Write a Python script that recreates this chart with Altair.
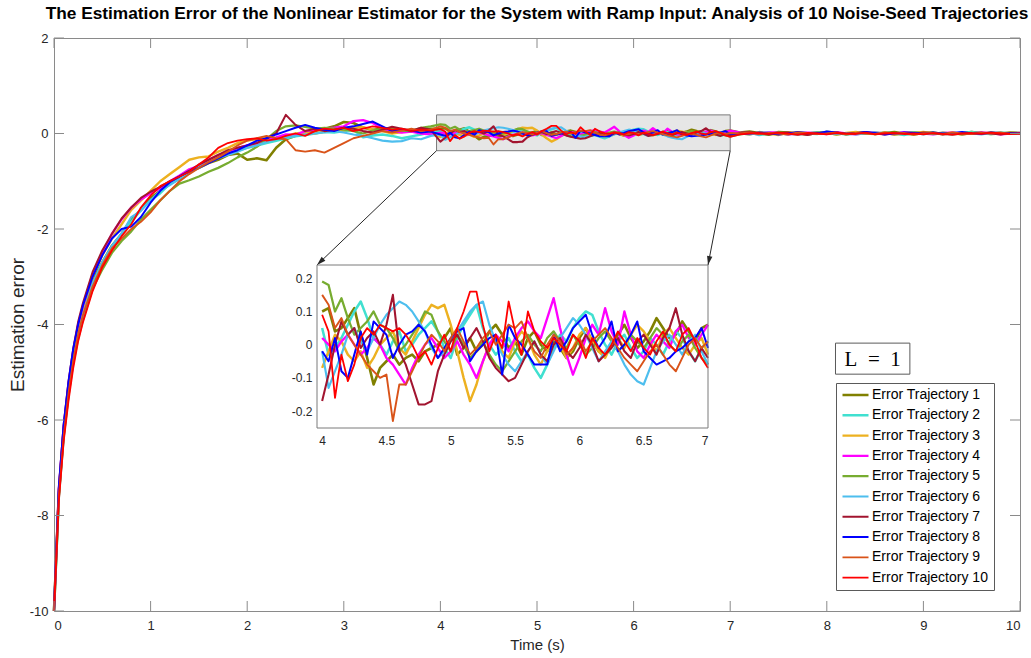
import math
import numpy as np
import pandas as pd
import altair as alt

TITLE = ("The Estimation Error of the Nonlinear Estimator for the System with Ramp Input: "
         "Analysis of 10 Noise-Seed Trajectories")
NAMES = ["Error Trajectory %d" % k for k in range(1, 11)]
COLORS = ["#808000", "#40e0d0", "#edb120", "#ff00ff", "#77ac30",
          "#4dbeee", "#a2142f", "#0000ff", "#d95319", "#ff0000"]
LINE_WIDTHS = [2.6, 1.8, 1.8, 1.8, 1.8, 1.8, 1.8, 1.8, 1.8, 1.8]

# time grids
T_EARLY = [0, 0.05, 0.1, 0.15, 0.2, 0.25, 0.3, 0.4, 0.5, 0.6, 0.7, 0.8, 0.9, 1.0,
           1.1, 1.2, 1.3, 1.4, 1.5, 1.6, 1.7, 1.8, 1.9, 2.0, 2.1, 2.2, 2.3, 2.4,
           2.5, 2.6, 2.7, 2.8, 2.9, 3.0, 3.1, 3.2, 3.3, 3.4, 3.5, 3.6, 3.7, 3.8, 3.9]
T_ZOOM = [round(v / 100, 2) for v in range(400, 701, 5)]      # 4.00 .. 7.00
T_LATE = [round(v / 10, 1) for v in range(71, 101)]            # 7.1 .. 10.0

# estimation error, 0 .. 3.9 s
ERR_EARLY = [
    [-10, -7.55, -6.25, -5.35, -4.65, -4.1, -3.7, -3.05, -2.7, -2.35, -2.1, -1.8, -1.6, -1.35, -1.2, -1.05, -0.95,
     -0.8, -0.72, -0.62, -0.55, -0.45, -0.42, -0.55, -0.52, -0.56, -0.3, -0.12, -0.05, 0.02, 0.05, 0.1, 0.15, 0.24,
     0.22, 0.12, 0.08, 0.1, 0.06, 0.04, 0.08, 0.05, 0.1],
    [-10, -7.6, -6.35, -5.45, -4.75, -4.2, -3.8, -3.15, -2.7, -2.4, -2.1, -1.85, -1.6, -1.4, -1.25, -1.05, -0.92,
     -0.8, -0.72, -0.6, -0.5, -0.42, -0.36, -0.3, -0.25, -0.2, -0.15, -0.1, -0.06, -0.03, 0.0, 0.03, 0.02, 0.05,
     0.08, -0.08, -0.04, -0.02, -0.05, -0.1, -0.06, -0.02, 0.03],
    [-10, -7.5, -6.2, -5.3, -4.6, -4.05, -3.65, -3.0, -2.55, -2.2, -1.9, -1.6, -1.4, -1.2, -1.0, -0.85, -0.7,
     -0.55, -0.5, -0.48, -0.38, -0.3, -0.2, -0.15, -0.12, -0.08, -0.1, -0.05, 0.0, 0.02, 0.0, 0.04, 0.08, 0.06,
     0.12, 0.13, 0.08, 0.05, 0.0, 0.03, 0.06, 0.02, 0.0],
    [-10, -7.45, -6.15, -5.25, -4.55, -4.0, -3.6, -2.95, -2.5, -2.1, -1.8, -1.55, -1.38, -1.25, -1.15, -1.0, -0.88,
     -0.75, -0.68, -0.55, -0.45, -0.38, -0.3, -0.25, -0.2, -0.12, -0.08, -0.02, -0.03, 0.05, 0.08, 0.1, 0.12, 0.15,
     0.26, 0.28, 0.22, 0.1, 0.05, 0.02, 0.04, 0.0, -0.02],
    [-10, -7.6, -6.35, -5.5, -4.8, -4.3, -3.9, -3.25, -2.85, -2.5, -2.25, -2.05, -1.8, -1.6, -1.4, -1.2, -1.05,
     -0.98, -0.9, -0.8, -0.72, -0.62, -0.5, -0.4, -0.28, -0.12, 0.05, 0.15, 0.17, 0.14, 0.1, 0.12, 0.1, 0.08,
     0.05, 0.0, 0.06, 0.1, 0.12, 0.06, 0.05, 0.12, 0.15],
    [-10, -7.55, -6.3, -5.4, -4.7, -4.2, -3.8, -3.15, -2.7, -2.35, -2.1, -1.75, -1.62, -1.4, -1.2, -1.08, -0.95,
     -0.8, -0.7, -0.6, -0.52, -0.45, -0.38, -0.3, -0.25, -0.18, -0.12, -0.08, -0.05, -0.02, 0.0, 0.03, 0.05, 0.02,
     -0.02, -0.05, -0.1, -0.15, -0.17, -0.16, -0.1, -0.12, -0.05],
    [-10, -7.45, -6.1, -5.2, -4.5, -3.95, -3.55, -2.9, -2.45, -2.1, -1.78, -1.55, -1.35, -1.22, -1.12, -1.0, -0.9,
     -0.78, -0.65, -0.55, -0.45, -0.35, -0.3, -0.25, -0.2, -0.1, 0.0, 0.39, 0.18, 0.05, 0.1, 0.05, 0.08, 0.12,
     0.1, 0.05, 0.02, 0.08, 0.14, 0.1, 0.06, 0.12, 0.08],
    [-10, -7.4, -6.1, -5.2, -4.5, -4.0, -3.6, -3.0, -2.55, -2.2, -2.0, -1.95, -1.75, -1.45, -1.2, -1.02, -0.9,
     -0.8, -0.72, -0.62, -0.52, -0.42, -0.35, -0.25, -0.15, -0.1, -0.02, 0.05, 0.12, 0.18, 0.12, 0.08, 0.05, 0.12,
     0.15, 0.2, 0.25, 0.15, 0.05, 0.08, 0.06, 0.02, 0.04],
    [-10, -7.6, -6.35, -5.45, -4.75, -4.2, -3.8, -3.2, -2.75, -2.4, -2.2, -2.0, -1.85, -1.65, -1.4, -1.2, -1.0,
     -0.85, -0.72, -0.6, -0.5, -0.38, -0.25, -0.15, -0.1, -0.05, -0.1, -0.12, -0.35, -0.38, -0.35, -0.4, -0.3,
     -0.2, -0.1, -0.05, 0.0, 0.05, 0.02, 0.06, 0.1, 0.05, 0.08],
    [-10, -7.7, -6.45, -5.6, -4.9, -4.35, -3.95, -3.3, -2.8, -2.45, -2.15, -1.9, -1.55, -1.3, -1.1, -1.0, -0.9,
     -0.8, -0.65, -0.5, -0.3, -0.2, -0.15, -0.12, -0.1, -0.15, -0.12, -0.05, 0.0, -0.05, 0.05, 0.1, 0.08, 0.12,
     0.05, 0.1, 0.15, 0.12, 0.08, 0.1, 0.05, 0.08, 0.06],
]

# estimation error 4.00 .. 7.00 s, in hundredths
ERR_ZOOM_CENTI = [
    [10, 11, 4, 5, 8, 11, 3, -4, -12, -7, -5, -3, -6, -4, -3, -5, -2, -1, 0, 2, 5, -3, -1, 2, -2, 0, 4, 6, 3, -1,
     1, -3, 2, 4, 0, -2, 1, -1, -4, -2, 2, 5, 1, -2, -3, 0, 3, 6, 2, -1, 1, 4, 8, 5, 2, 3, 7, 4, 1, 5, 6],
    [5, -3, -1, 2, 6, 10, 13, 8, 2, 0, -3, 1, 4, -2, 0, 3, 5, 7, 4, -1, -4, 2, 6, 9, 12, 5, 0, -3, -1, 2,
     -2, -5, -3, -7, -10, -6, -1, 3, 1, 5, 8, 10, 9, 4, 0, -3, 1, 3, -1, -4, -2, 2, 0, -3, 1, 4, 2, -2, -5, -1, 1],
    [-7, -2, 3, 1, -3, -5, -2, -7, -4, 0, 2, 4, -1, -3, 1, 5, 9, 12, 11, 12, 6, -2, -10, -17, -12, -5, 0, 3, -2, -4,
     1, 4, 2, -3, -6, -2, 2, 0, -4, -1, 3, 5, 1, -2, -4, 0, 2, -1, 3, 6, 4, 1, -2, 3, 5, 2, -1, -3, 0, 2, -3],
    [2, 0, -2, 1, 3, 0, -3, -1, 2, 0, -4, -6, -9, -12, -7, -3, 0, 2, -1, -4, -2, 1, -3, -6, -10, -5, 0, 3, 1, -2,
     2, 5, 7, 4, 2, 8, 14, 5, -3, -9, -4, 2, 6, 3, 11, 4, 0, 10, 3, -2, -4, 0, 3, 1, -1, 4, 6, 2, 0, 3, 6],
    [19, 18, 10, 14, 8, 3, 5, 7, 10, 6, 5, 2, -2, 0, 3, 6, 10, 9, 4, 1, -2, 3, 0, -4, -2, 1, -3, -6, -8, -5,
     -2, 1, 3, 0, -2, 2, 4, 1, -1, 3, 0, -3, -1, 2, 4, 1, -2, 0, 3, 1, -1, 2, 5, 3, 0, -2, 1, 3, -1, -4, -6],
    [-2, -13, -8, -3, 3, 5, 1, -2, 2, 6, 9, 11, 13, 12, 10, 7, 4, -1, -4, -2, 1, 4, 7, 10, 12, 13, 6, 1, -3, -6,
     -8, -5, -2, 1, -3, -6, -2, 2, 5, 8, 6, 3, -1, -5, -2, 1, -2, -6, -9, -11, -12, -7, -2, 1, 3, 0, -3, 1, 3, -2, -6],
    [-17, -9, 0, 7, 3, 5, -1, 2, 4, 0, 6, 15, -2, -6, -12, -18, -18, -17, -8, -3, 1, 3, -1, 2, 5, 1, -4, -7, -9, -11,
     -10, -6, -2, 1, -3, -5, 0, 2, -2, -4, -1, 3, 0, -5, -3, -1, 2, -2, -4, 1, 3, 0, -3, 2, 5, 11, 3, -2, -5, -1, -4],
    [-2, -5, 2, -8, -10, -3, 4, -3, 7, 5, 3, -4, 0, 3, 4, 6, 4, 0, -4, -1, 2, 4, 5, -5, -2, 0, 2, 3, -9, 6,
     2, 0, -3, -6, -6, -6, 3, -2, 1, 5, 7, 9, 3, -1, 2, 7, -2, 0, 3, 7, -2, -4, -6, -5, -4, -2, -1, 1, 2, 5, -1],
    [15, 12, 5, 8, 3, 0, -3, -6, -8, -10, -9, -23, -12, -12, -8, -4, 0, 3, 1, -2, 2, 5, 1, -3, -1, 2, 4, 0, 3, 6,
     5, 7, 2, -2, -4, 0, 3, 1, -3, -1, 2, -2, 1, 3, 5, 2, -1, -4, -6, -8, -5, -2, 0, -3, -6, -8, -4, 0, 2, -1, 1],
    [9, 4, -16, -3, -11, -6, 2, 5, 3, 6, 5, 4, 5, 3, 0, -4, -2, -6, -1, 3, -2, 5, 10, 16, 16, 6, -2, 3, -1, 13,
     4, -3, 10, 4, 1, -1, 2, 0, -2, 3, 1, -4, 2, -1, -3, 0, 4, 1, -2, 2, -1, -3, 1, 4, 0, -2, 3, 5, 1, -4, -7],
]

# estimation error 7.1 .. 10.0 s, in hundredths
ERR_LATE_CENTI = [
    [2, 4, 1, -1, 3, 2, 0, -2, 1, 3, 2, -1, 0, 2, -1, 1, 3, 0, -2, 1, 2, -1, 0, 1, 3, 1, -1, 0, 2, 1],
    [-1, 2, -3, 0, 1, -2, 2, 0, -1, 3, 1, -2, 0, 1, -1, 2, 0, -3, 1, 2, -1, 0, -2, 1, 3, 0, -1, 2, 0, 1],
    [1, -2, 3, 0, -3, 1, 2, -1, 0, 2, -2, 1, 3, 0, -1, 2, -2, 0, 1, 3, 0, -1, 2, -2, 1, 0, 2, -1, 1, 0],
    [2, 0, -1, 3, 1, -2, 0, 2, 1, -1, 3, 0, -2, 1, 2, 0, -1, 3, 1, 0, -2, 1, 2, -1, 0, 2, 1, -2, 0, 1],
    [-2, 1, 0, -3, 2, 1, -1, 0, 3, 1, -2, 0, 1, -1, 2, 0, -2, 1, 3, 0, -1, 2, 0, -2, 1, 0, 2, 1, -1, 0],
    [0, -2, 1, 2, -1, 0, -3, 1, 2, 0, -1, 1, -2, 0, 2, 1, -1, 0, 2, -2, 1, 0, -1, 2, 0, -2, 1, 0, 1, -1],
    [1, 3, 0, -2, 1, 2, 0, -3, 1, 0, 2, -1, 1, 3, 0, -2, 1, 0, -1, 2, 1, -2, 0, 1, -1, 2, 0, -2, 1, 0],
    [-1, 0, 2, 1, -2, 0, 3, 1, 0, 4, 2, -1, 0, 3, 1, -2, 0, 2, 1, -1, 2, 0, 1, 3, 0, -1, 2, 1, 0, 1],
    [0, 2, -1, 1, 0, -2, 2, 1, -1, 0, 2, -2, 1, 0, -1, 2, 0, 1, -2, 0, 1, -1, 2, 0, -1, 1, 0, 2, -1, 0],
    [-2, 0, 1, -1, 2, 0, -3, 1, 0, -2, 1, 0, -1, 2, -2, 0, 1, -1, 0, -2, 1, -1, -3, 0, 1, -1, 2, 0, -1, 0],
]

X_TICKS = [0, 1, 2, 3, 4, 5, 6, 7, 8, 9, 10]
Y_TICKS = [-10, -8, -6, -4, -2, 0, 2]
INSET_X_TICKS = [4, 4.5, 5, 5.5, 6, 6.5, 7]
INSET_Y_TICKS = [-0.2, -0.1, 0, 0.1, 0.2]

# annotation geometry (data units)
ZOOM_BOX_T = [3.96, 7.0]
ZOOM_BOX_E = [-0.36, 0.39]
INSET_T_DOM = [3.96, 7.0]
INSET_E_DOM = [-0.251, 0.24]
LBOX_T = [8.09, 8.86]
LBOX_E = [-5.04, -4.39]

# layout (pixels)
W, H = 966, 573
INSET_PX_X = [263, 654]
INSET_PX_Y = [390, 227]
TICK = 10
FRAME = "#8a8a8a"
INK = "#262626"
FONT = "Liberation Sans"
HYPHEN = "replace(datum.label, '\u2212', '-')"

# ---------- data table ----------
times = T_EARLY + T_ZOOM + T_LATE
rows = []
for k, name in enumerate(NAMES):
    assert len(ERR_EARLY[k]) == len(T_EARLY), (k, len(ERR_EARLY[k]))
    assert len(ERR_ZOOM_CENTI[k]) == len(T_ZOOM), (k, len(ERR_ZOOM_CENTI[k]))
    assert len(ERR_LATE_CENTI[k]) == len(T_LATE), (k, len(ERR_LATE_CENTI[k]))
    vals = list(ERR_EARLY[k]) + [v / 100 for v in ERR_ZOOM_CENTI[k]] + [v / 100 for v in ERR_LATE_CENTI[k]]
    for t, e in zip(times, vals):
        rows.append({"t": float(t), "err": float(e), "traj": name})
df = pd.DataFrame(rows)
inset_df = df[(df["t"] >= 3.999) & (df["t"] <= 7.001)]


# ---------- scales / encodings ----------
def x_main():
    return alt.Scale(domain=[0, 10], nice=False, zero=False)


def y_main():
    return alt.Scale(domain=[-10, 2], nice=False, zero=False)


def x_in():
    return alt.Scale(domain=INSET_T_DOM, range=INSET_PX_X, nice=False, zero=False)


def y_in():
    return alt.Scale(domain=INSET_E_DOM, range=INSET_PX_Y, nice=False, zero=False)


legend = alt.Legend(title=None, orient="none", legendX=782, legendY=345, direction="vertical",
                    symbolType="stroke", symbolSize=676, symbolStrokeWidth=2, clipHeight=14,
                    labelFontSize=14, labelFont=FONT, labelColor="black", labelLimit=300,
                    fillColor="white", strokeColor="#5a5a5a", padding=5, rowPadding=6.3,
                    labelOffset=2)
color_enc = alt.Color("traj:N", scale=alt.Scale(domain=NAMES, range=COLORS), legend=legend)
sw_enc = alt.StrokeWidth("traj:N", scale=alt.Scale(domain=NAMES, range=LINE_WIDTHS), legend=None)

x_axis_main = alt.Axis(orient="bottom", values=X_TICKS, title="Time (s)", labelFontSize=13,
                       titleFontSize=15, titleFontWeight="normal", labelPadding=8, titlePadding=5,
                       grid=False, ticks=False, domain=False, labelColor=INK, titleColor=INK,
                       labelFont=FONT, titleFont=FONT)
y_axis_main = alt.Axis(orient="left", values=Y_TICKS, title="Estimation error", labelFontSize=13,
                       titleFontSize=19, titleFontWeight="normal", labelPadding=6, titlePadding=2,
                       grid=False, ticks=False, domain=False, labelColor=INK, titleColor=INK,
                       labelFont=FONT, titleFont=FONT, format="d", labelExpr=HYPHEN)

main_lines = alt.Chart(df).mark_line(strokeJoin="round").encode(
    x=alt.X("t:Q", scale=x_main(), axis=x_axis_main),
    y=alt.Y("err:Q", scale=y_main(), axis=y_axis_main),
    color=color_enc,
    strokeWidth=sw_enc,
)

zoom_box = alt.Chart(pd.DataFrame({"t": [ZOOM_BOX_T[0]], "t2": [ZOOM_BOX_T[1]],
                                   "e": [ZOOM_BOX_E[0]], "e2": [ZOOM_BOX_E[1]]})).mark_rect(
    fill="#e6e6e6", stroke="#7a7a7a", strokeWidth=1).encode(
    x=alt.X("t:Q", scale=x_main(), axis=None), x2="t2:Q",
    y=alt.Y("e:Q", scale=y_main(), axis=None), y2="e2:Q")

# inward ticks like MATLAB
xt = pd.DataFrame({"t": X_TICKS})
yt = pd.DataFrame({"e": Y_TICKS})
tick_layers = [
    alt.Chart(xt).mark_rule(color=FRAME).encode(
        x=alt.X("t:Q", scale=x_main(), axis=None), y=alt.value(H - TICK), y2=alt.value(H)),
    alt.Chart(xt).mark_rule(color=FRAME).encode(
        x=alt.X("t:Q", scale=x_main(), axis=None), y=alt.value(0), y2=alt.value(TICK)),
    alt.Chart(yt).mark_rule(color=FRAME).encode(
        y=alt.Y("e:Q", scale=y_main(), axis=None), x=alt.value(0), x2=alt.value(TICK)),
    alt.Chart(yt).mark_rule(color=FRAME).encode(
        y=alt.Y("e:Q", scale=y_main(), axis=None), x=alt.value(W - TICK), x2=alt.value(W)),
]


def px_t(px):
    return px / W * 10.0


def px_e(py):
    return 2.0 - py / H * 12.0


def t_px(t):
    return t / 10.0 * W


def e_px(e):
    return (2.0 - e) / 12.0 * H


arrow_rows = []
for sx_t, ex_px in [(ZOOM_BOX_T[0], INSET_PX_X[0]), (ZOOM_BOX_T[1], INSET_PX_X[1])]:
    s_t, s_e = sx_t, ZOOM_BOX_E[0]
    e_t, e_e = px_t(ex_px), px_e(INSET_PX_Y[1])
    dx = t_px(e_t) - t_px(s_t)
    dy = e_px(e_e) - e_px(s_e)
    ang = math.degrees(math.atan2(-dx, dy)) % 360
    arrow_rows.append({"t": s_t, "e": s_e, "t2": e_t, "e2": e_e, "angle": ang})
arrows_df = pd.DataFrame(arrow_rows)

arrow_lines = alt.Chart(arrows_df).mark_rule(color=INK, strokeWidth=1).encode(
    x=alt.X("t:Q", scale=x_main(), axis=None), x2="t2:Q",
    y=alt.Y("e:Q", scale=y_main(), axis=None), y2="e2:Q")
arrow_heads = alt.Chart(arrows_df).mark_point(
    shape="M0,0L-0.6,-2L0.6,-2Z", filled=True, size=81, color=INK, opacity=1).encode(
    x=alt.X("t2:Q", scale=x_main(), axis=None),
    y=alt.Y("e2:Q", scale=y_main(), axis=None),
    angle=alt.Angle("angle:Q", scale=None))

lbox_df = pd.DataFrame({"t": [LBOX_T[0]], "t2": [LBOX_T[1]], "e": [LBOX_E[0]], "e2": [LBOX_E[1]],
                        "tc": [(LBOX_T[0] + LBOX_T[1]) / 2], "ec": [(LBOX_E[0] + LBOX_E[1]) / 2],
                        "label": ["L\u2002=\u20021"]})
lbox = alt.Chart(lbox_df).mark_rect(fill="white", stroke="#5a5a5a", strokeWidth=1).encode(
    x=alt.X("t:Q", scale=x_main(), axis=None), x2="t2:Q",
    y=alt.Y("e:Q", scale=y_main(), axis=None), y2="e2:Q")
ltext = alt.Chart(lbox_df).mark_text(font="Liberation Serif", fontSize=21, color="black",
                                     baseline="middle", align="center", dy=1).encode(
    x=alt.X("tc:Q", scale=x_main(), axis=None),
    y=alt.Y("ec:Q", scale=y_main(), axis=None),
    text="label:N")

# ---------- inset ----------
ib_df = pd.DataFrame({"t": [INSET_T_DOM[0]], "t2": [INSET_T_DOM[1]],
                      "e": [INSET_E_DOM[0]], "e2": [INSET_E_DOM[1]]})
inset_bg = alt.Chart(ib_df).mark_rect(fill="white").encode(
    x=alt.X("t:Q", scale=x_in(), axis=None), x2="t2:Q",
    y=alt.Y("e:Q", scale=y_in(), axis=None), y2="e2:Q")
x_axis_in = alt.Axis(orient="bottom", offset=-(H - INSET_PX_Y[0]), values=INSET_X_TICKS, title=None,
                     labelFontSize=12, labelPadding=7, grid=False, format="~g",
                     ticks=False, domain=False, labelColor=INK, labelFont=FONT)
y_axis_in = alt.Axis(orient="left", offset=-INSET_PX_X[0], values=INSET_Y_TICKS, title=None,
                     labelFontSize=12, labelPadding=5, grid=False, format="~g",
                     ticks=False, domain=False, labelColor=INK, labelFont=FONT, labelExpr=HYPHEN)
inset_lines = alt.Chart(inset_df).mark_line(strokeJoin="round").encode(
    x=alt.X("t:Q", scale=x_in(), axis=x_axis_in),
    y=alt.Y("err:Q", scale=y_in(), axis=y_axis_in),
    color=color_enc,
    strokeWidth=sw_enc,
)
inset_frame = alt.Chart(ib_df).mark_rect(fillOpacity=0, stroke="#7a7a7a", strokeWidth=1).encode(
    x=alt.X("t:Q", scale=x_in(), axis=None), x2="t2:Q",
    y=alt.Y("e:Q", scale=y_in(), axis=None), y2="e2:Q")

layers = [zoom_box, main_lines] + tick_layers + [arrow_lines, arrow_heads, lbox, ltext,
                                                 inset_bg, inset_lines, inset_frame]

chart = alt.layer(*layers).resolve_scale(
    x="independent", y="independent"
).resolve_axis(
    x="independent", y="independent"
).properties(
    width=W, height=H,
    title=alt.TitleParams(TITLE, fontSize=17.3, fontWeight="bold", font=FONT, color="black",
                          anchor="middle", frame="group", offset=10),
    autosize=alt.AutoSizeParams(type="none"),
    padding={"left": 54, "top": 38, "right": 11, "bottom": 47},
).configure(font=FONT).configure_view(stroke=FRAME, strokeWidth=1)

chart.save("out.html", embed_options={"renderer": "svg", "actions": False})
